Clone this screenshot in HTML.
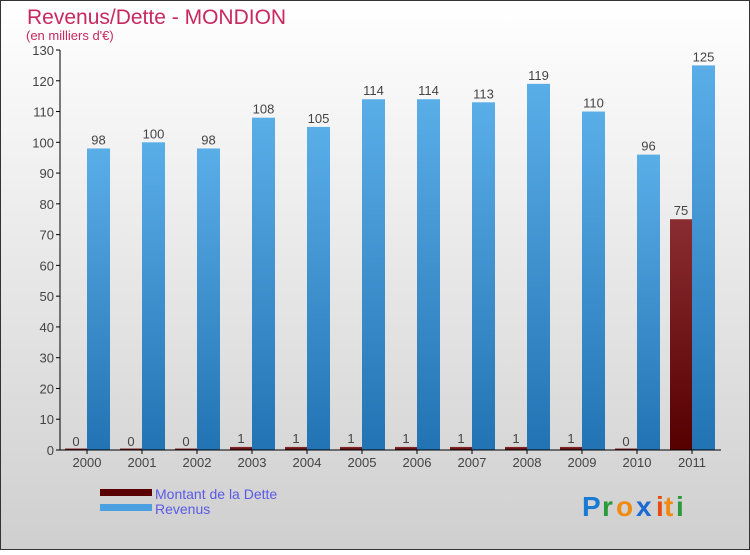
<!DOCTYPE html>
<html><head><meta charset="utf-8"><style>
body{margin:0;}
#c{width:750px;height:550px;position:relative;font-family:"Liberation Sans",sans-serif;}
</style></head><body>
<div id="c">
<svg id="s" width="750" height="550" xmlns="http://www.w3.org/2000/svg">
<defs>
<linearGradient id="bg" x1="0" y1="0" x2="0" y2="1"><stop offset="0" stop-color="#ffffff"/><stop offset="1" stop-color="#cfcfcf"/></linearGradient>
<linearGradient id="gb" x1="0" y1="0" x2="0" y2="1"><stop offset="0" stop-color="#5aaee8"/><stop offset="1" stop-color="#2273b3"/></linearGradient>
<linearGradient id="gr" x1="0" y1="0" x2="0" y2="1"><stop offset="0" stop-color="#8a2d32"/><stop offset="1" stop-color="#560000"/></linearGradient>
</defs>
<rect x="0.5" y="0.5" width="749" height="549" fill="url(#bg)" stroke="#333"/>
<text x="27" y="24" font-size="21" fill="#c8285f">Revenus/Dette - MONDION</text>
<text x="26" y="40" font-size="13" fill="#c8285f">(en milliers d'€)</text>
<g id="plot"></g>
<g>
<rect x="100" y="489" width="52" height="7" fill="#5a0000"/>
<text x="155" y="499" font-size="14" fill="#5a5ae6">Montant de la Dette</text>
<rect x="100" y="504" width="52" height="7" fill="#4aa0e0"/>
<text x="155" y="514" font-size="14" fill="#5a5ae6">Revenus</text>
</g>
<g font-size="28" font-weight="bold">
<text x="582" y="516" fill="#1a7ad4">P</text><text x="602" y="516" fill="#2a9a3a">r</text><text x="616" y="516" fill="#f08a10">o</text><text x="636" y="516" fill="#1a6ad0">x</text><text x="656" y="516" fill="#e84a10">i</text><text x="664" y="516" fill="#f08a10">t</text><text x="676" y="516" fill="#2a9a3a">i</text>
</g>
</svg>
</div>
<script>
const years=["2000","2001","2002","2003","2004","2005","2006","2007","2008","2009","2010","2011"];
const dette=[0,0,0,1,1,1,1,1,1,1,0,75];
const revenus=[98,100,98,108,105,114,114,113,119,110,96,125];
const yTicks=[0,10,20,30,40,50,60,70,80,90,100,110,120,130];
const NS="http://www.w3.org/2000/svg";
const g=document.getElementById('plot');
const y0=450,yTop=50,yMax=130;
function ys(v){return y0-(v/yMax)*(y0-yTop);}
function xs(i){return 87+55*i;}
function mk(t,a,txt){const e=document.createElementNS(NS,t);for(const k in a)e.setAttribute(k,a[k]);if(txt!==undefined)e.textContent=txt;g.appendChild(e);return e;}
yTicks.forEach(v=>{
 const t=mk('line',{x1:56,x2:60,y1:ys(v),y2:ys(v),stroke:'#000'});
 
 
 const l=mk('text',{x:54,y:ys(v)+5,'font-size':13,fill:'#444','text-anchor':'end'},v);
 
 
});
years.forEach((yr,i)=>{
 const c=xs(i);
 const rb=mk('rect',{x:c-22,y:ys(dette[i]),width:22,height:Math.max(y0-ys(dette[i]),dette[i]===0?1.5:0),fill:'url(#gr)'});
 if(dette[i]===0){rb.setAttribute('y',y0-1.5);}
 
 
 const bb=mk('rect',{x:c,y:ys(revenus[i]),width:23,height:y0-ys(revenus[i]),fill:'url(#gb)'});
 
 
 const dl=mk('text',{x:c-11,y:ys(dette[i])-4,'font-size':13,fill:'#444','text-anchor':'middle'},dette[i]);
 
 
 const rl=mk('text',{x:c+11.5,y:ys(revenus[i])-4,'font-size':13,fill:'#444','text-anchor':'middle'},revenus[i]);
 
 
 const tk=mk('line',{x1:c,x2:c,y1:y0,y2:y0+4,stroke:'#000'});
 
 
 const xl=mk('text',{x:c,y:467,'font-size':13,fill:'#444','text-anchor':'middle'},yr);
 
 
});
const ya=mk('line',{x1:60,x2:60,y1:yTop,y2:y0,stroke:'#000'});


const xa=mk('line',{x1:60,x2:721,y1:y0,y2:y0,stroke:'#000'});


</script>
</body></html>
